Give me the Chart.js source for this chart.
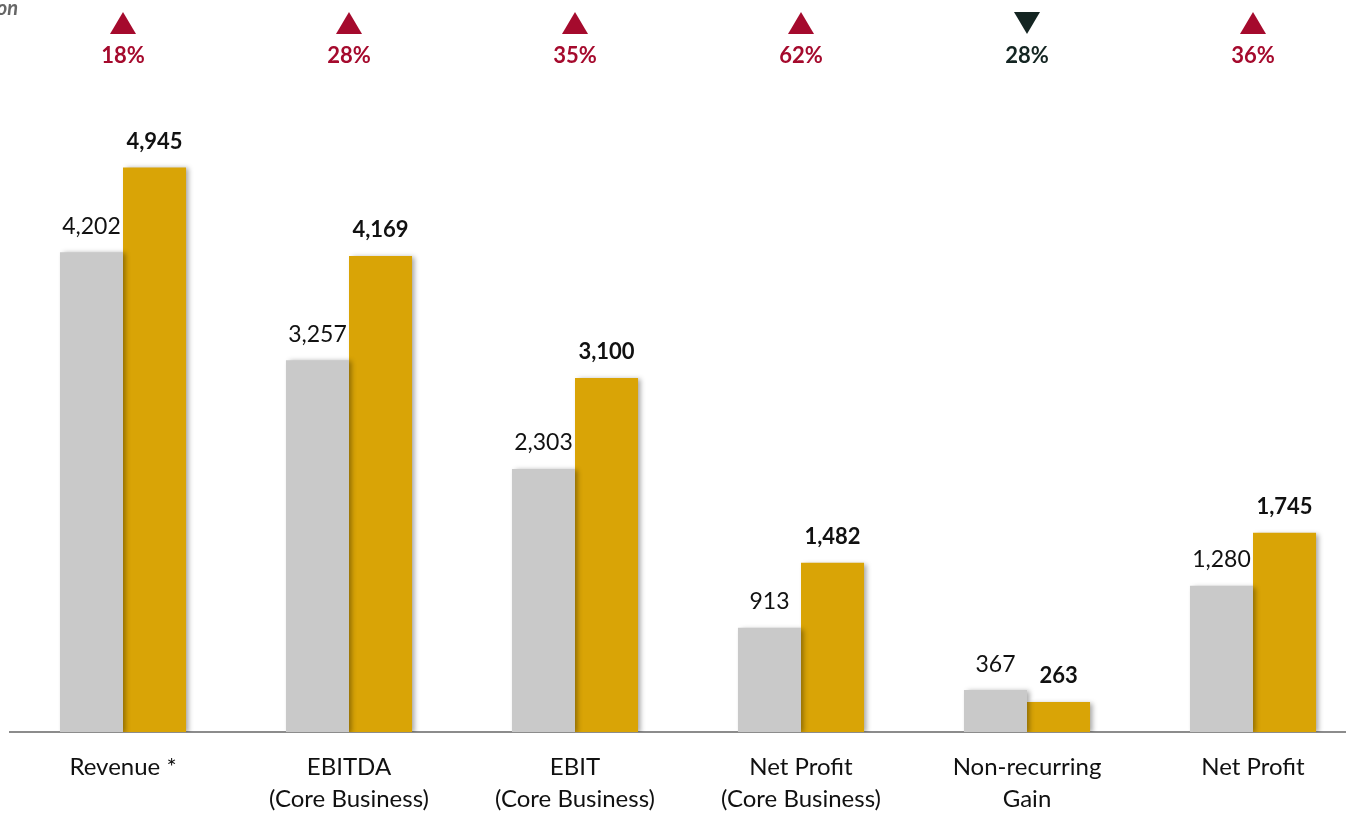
<!DOCTYPE html>
<html>
<head>
<meta charset="utf-8">
<script src="https://cdn.jsdelivr.net/npm/chart.js@4"></script>
<style>
  html, body { margin: 0; padding: 0; background: #fff; overflow: hidden; }
  #wrap { width: 1346px; height: 813px; overflow: hidden; position: relative; }
</style>
</head>
<body>
<div id="wrap"><canvas id="kpiChart" width="1380" height="813"></canvas></div>
<script>
// values in SAR million
const categories = [
  'Revenue *',
  ['EBITDA', '(Core Business)'],
  ['EBIT', '(Core Business)'],
  ['Net Profit', '(Core Business)'],
  ['Non-recurring', 'Gain'],
  'Net Profit'
];
const prevYear = [4202, 3257, 2303, 913, 367, 1280];
const currYear = [4945, 4169, 3100, 1482, 263, 1745];
const changePct = ['18%', '28%', '35%', '62%', '28%', '36%'];
const changeDir = ['up', 'up', 'up', 'up', 'down', 'up'];

const FONT = 'Lato, "Open Sans", sans-serif';
const RED = '#A50A2D';
const DARK = '#142522';

const fmt = v => v.toLocaleString('en-US');

// soft shadow behind the bars
const barShadow = {
  id: 'barShadow',
  beforeDatasetsDraw(chart) {
    const ctx = chart.ctx;
    ctx.save();
    ctx.shadowColor = 'rgba(0,0,0,0.35)';
    ctx.shadowBlur = 5;
    ctx.shadowOffsetX = 3;
    ctx.shadowOffsetY = 1;
  },
  afterDatasetsDraw(chart) {
    chart.ctx.restore();
  }
};

const valueLabels = {
  id: 'valueLabels',
  afterDraw(chart) {
    const ctx = chart.ctx;
    ctx.save();
    ctx.textAlign = 'center';
    ctx.textBaseline = 'middle';
    chart.data.datasets.forEach((ds, i) => {
      const meta = chart.getDatasetMeta(i);
      ctx.font = (i === 1 ? 'bold 22px ' : '23px ') + FONT;
      ctx.fillStyle = '#111';
      meta.data.forEach((el, j) => {
        ctx.fillText(fmt(ds.data[j]), el.x, el.y - 26);
      });
    });

    // growth indicators on top
    const xs = chart.scales.x;
    categories.forEach((c, j) => {
      const cx = xs.getPixelForValue(j);
      const col = changeDir[j] === 'up' ? RED : DARK;
      ctx.fillStyle = col;
      ctx.beginPath();
      if (changeDir[j] === 'up') {
        ctx.moveTo(cx, 12);
        ctx.lineTo(cx + 13, 34);
        ctx.lineTo(cx - 13, 34);
      } else {
        ctx.moveTo(cx - 13, 12);
        ctx.lineTo(cx + 13, 12);
        ctx.lineTo(cx, 34);
      }
      ctx.closePath();
      ctx.fill();
      ctx.font = 'bold 22px ' + FONT;
      ctx.fillText(changePct[j], cx, 56);
    });

    // unit caption, cut off at the left edge
    ctx.textAlign = 'right';
    ctx.font = 'italic bold 20px ' + FONT;
    ctx.fillStyle = '#666';
    ctx.fillText('SAR Million', 18, 9);
    ctx.restore();
  }
};

const ctx = document.getElementById('kpiChart').getContext('2d');
const kpiChart = new Chart(ctx, {
  type: 'bar',
  data: {
    labels: categories,
    datasets: [{
      label: 'Previous year',
      data: prevYear,
      backgroundColor: '#C9C9C9',
      barPercentage: 1,
      categoryPercentage: 0.558
    }, {
      label: 'Current year',
      data: currYear,
      backgroundColor: '#D9A406',
      barPercentage: 1,
      categoryPercentage: 0.558
    }]
  },
  options: {
    responsive: false,
    animation: false,
    layout: { padding: { left: 10, right: 14, top: 47, bottom: 0 } },
    plugins: {
      legend: { display: false },
      tooltip: { enabled: false }
    },
    scales: {
      x: {
        grid: { display: false, drawTicks: false },
        border: { display: true, color: '#8c8c8c', width: 2 },
        ticks: {
          color: '#111',
          font: { family: FONT, size: 24, lineHeight: 1.33 },
          padding: 19,
          maxRotation: 0,
          autoSkip: false
        },
        afterFit(scale) { scale.height = 81; }
      },
      y: {
        display: false,
        min: 0,
        max: 6000
      }
    }
  },
  plugins: [barShadow, valueLabels]
});
</script>
</body>
</html>
